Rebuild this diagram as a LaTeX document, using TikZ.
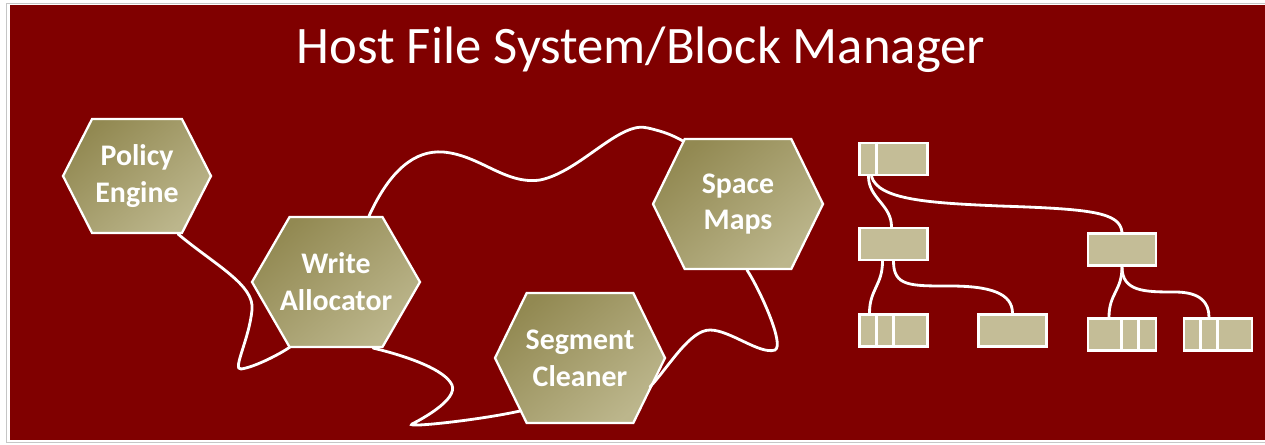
\documentclass[tikz,border=0pt]{standalone}
\usepackage{fontspec}
\setmainfont{Carlito}
\usepackage{tikz}
\usetikzlibrary{shapes.symbols,calc}

\definecolor{slide}{RGB}{128,0,0}
\definecolor{hexdark}{RGB}{146,137,82}
\definecolor{hexlight}{RGB}{188,182,140}
\definecolor{blkfill}{RGB}{196,189,151}

\begin{document}
\begin{tikzpicture}[x=0.02cm,y=-0.02cm,
    hexa/.style={signal, signal to=east and west, signal pointer angle=#1,
        draw=white, line width=1.3pt, top color=hexdark, bottom color=hexlight,
        shading angle=40, text=white, align=center, inner sep=0pt,
        font=\fontsize{17}{21}\selectfont\bfseries,
        minimum width=3.4cm, minimum height=2.6cm},
    hexa/.default=128,
    blk/.style={draw=white, line width=1.5pt, fill=blkfill, inner sep=0pt,
        minimum width=1.36cm, minimum height=0.64cm},
    wire/.style={draw=white, line width=1.6pt, line cap=round},
    sep/.style={draw=white, line width=1.5pt}]
    \useasboundingbox (0,0) rectangle (1265,444);
    % slide background
    \fill[slide] (10,5) rectangle (1265,440);
    \draw[gray!45, line width=0.6pt] (1265,3.5) -- (6.5,3.5) -- (6.5,442.5) -- (1265,442.5);
    \node[text=white, font=\fontsize{30}{36}\selectfont] (title) at (641,50) {Host File System/Block Manager};

    % components
    \node[hexa=126, minimum width=2.96cm, minimum height=2.28cm] (policy) at (137,176) {Policy\\Engine};
    \node[hexa=120, minimum width=3.36cm] (writer) at (336,282) {Write\\\makebox[0pt]{Allocator}};
    \node[hexa] (spacemap) at (738,204) {Space\\Maps};
    \node[hexa] (cleaner) at (580,358) {\makebox[0pt]{Segment}\\Cleaner};

    \draw[wire] ($(policy.center)+(41,58)$) .. controls (215,265) and (255,285) .. (252,310)
        .. controls (249,340) and (232,370) .. (241,369)
        .. controls (255,367) and (280,354) .. ($(writer.center)+(-46,65)$);
    \draw[wire] ($(writer.center)+(33,-66)$) .. controls (390,170) and (415,150) .. (443,152)
        .. controls (480,155) and (505,185) .. (540,180)
        .. controls (580,172) and (620,120) .. (648,128)
        .. controls (665,132) and (672,135) .. ($(spacemap.center)+(-55,-63)$);
    \draw[wire] ($(writer.center)+(37,66)$) .. controls (410,357) and (445,370) .. (452,385)
        .. controls (458,400) and (420,420) .. (412,424)
        .. controls (405,428) and (480,420) .. ($(cleaner.center)+(-60,53)$);
    \draw[wire] ($(cleaner.center)+(70,29)$) .. controls (670,365) and (690,330) .. (710,330)
        .. controls (730,330) and (760,355) .. (775,350)
        .. controls (785,345) and (760,290) .. ($(spacemap.center)+(9,66)$);

    % block tree
    \node[blk] (root) at (893.5,159) {};
    \node[blk] (midl) at (893.5,244) {};
    \node[blk] (midr) at (1122,249.5) {};
    \node[blk] (leafa) at (893.5,330.5) {};
    \node[blk] (leafb) at (1012.5,330.5) {};
    \node[blk] (leafc) at (1122,334.5) {};
    \node[blk] (leafd) at (1218,334.5) {};

    \draw[sep] ($(root.north west)+(18,0)$) -- ($(root.south west)+(18,0)$);
    \draw[sep] ($(leafa.north west)+(18,0)$) -- ($(leafa.south west)+(18,0)$);
    \draw[sep] ($(leafa.north west)+(35,0)$) -- ($(leafa.south west)+(35,0)$);
    \draw[sep] ($(leafc.north west)+(35,0)$) -- ($(leafc.south west)+(35,0)$);
    \draw[sep] ($(leafc.north west)+(52,0)$) -- ($(leafc.south west)+(52,0)$);
    \draw[sep] ($(leafd.north west)+(18,0)$) -- ($(leafd.south west)+(18,0)$);
    \draw[sep] ($(leafd.north west)+(35,0)$) -- ($(leafd.south west)+(35,0)$);

    \draw[wire] ($(root.south)+(-25,0)$) .. controls +(0,22) and +(0,-22) .. ($(midl.north)+(-2,0)$);
    \draw[wire] ($(root.south)+(-22,0)$) .. controls (878,200) and (930,203) .. (1000,206)
        .. controls (1090,209) and (1120,212) .. (midr.north);
    \draw[wire] ($(midl.south)+(-11,0)$) .. controls +(0,24) and +(0,-24) .. ($(leafa.north)+(-24,0)$);
    \draw[wire] (midl.south) .. controls +(0,25) and +(-40,0) .. (950,286)
        .. controls +(40,0) and +(0,-20) .. (leafb.north);
    \draw[wire] (midr.south) .. controls +(0,24) and +(0,-24) .. ($(leafc.north)+(-13,0)$);
    \draw[wire] (midr.south) .. controls +(0,25) and +(-30,0) .. (1175,292)
        .. controls +(25,0) and +(0,-15) .. ($(leafd.north)+(-9,0)$);
\end{tikzpicture}
\end{document}
